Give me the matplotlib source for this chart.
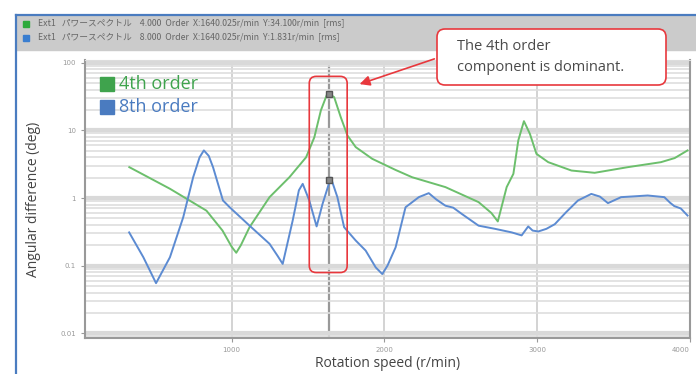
import matplotlib.pyplot as plt
import matplotlib.patches as mpatches
import matplotlib.transforms as mtransforms
from matplotlib.ticker import FixedLocator, NullFormatter, LogLocator

# 4th order curve (rotation speed r/min, angular difference deg)
speed_4th = [330, 596, 835, 940, 1000, 1030, 1060, 1117, 1248, 1378, 1487, 1541,
             1584, 1628, 1671, 1714, 1758, 1812, 1920, 2073, 2181, 2399, 2616,
             2700, 2742, 2800, 2844, 2876, 2913, 2952, 2995, 3072, 3224, 3376,
             3593, 3810, 3900, 3984]
deg_4th = [2.86, 1.37, 0.65, 0.33, 0.19, 0.155, 0.2, 0.37, 1.03, 2.03, 4.0, 7.9,
           19.8, 36.0, 31.0, 15.7, 8.4, 5.66, 3.8, 2.6, 2.03, 1.45, 0.87,
           0.6, 0.45, 1.45, 2.28, 7.1, 13.7, 8.9, 4.5, 3.39, 2.55, 2.36,
           2.86, 3.39, 3.9, 5.06]

# 8th order curve
speed_8th = [329, 422, 505, 596, 683, 748, 790, 818, 850, 878, 943, 987, 1117,
             1248, 1300, 1334, 1399, 1440, 1465, 1508, 1556, 1595, 1649, 1692,
             1736, 1812, 1877, 1943, 1986, 2020, 2073, 2138, 2225, 2290, 2340,
             2399, 2450, 2507, 2616, 2724, 2833, 2898, 2941, 2970, 3007, 3060,
             3115, 3190, 3267, 3354, 3410, 3463, 3549, 3640, 3723, 3832, 3870,
             3897, 3940, 3984]
deg_8th = [0.31, 0.133, 0.055, 0.133, 0.52, 2.03, 4.0, 5.06, 4.2, 2.86, 0.92,
           0.73, 0.39, 0.21, 0.14, 0.106, 0.46, 1.3, 1.62, 0.92, 0.38, 0.82,
           2.0, 1.03, 0.37, 0.235, 0.167, 0.094, 0.075, 0.1, 0.186, 0.73, 1.03,
           1.18, 0.95, 0.77, 0.72, 0.58, 0.39, 0.35, 0.31, 0.28, 0.38, 0.33,
           0.32, 0.35, 0.41, 0.62, 0.92, 1.15, 1.05, 0.84, 1.03, 1.06, 1.09,
           1.03, 0.85, 0.76, 0.7, 0.55]

cursor_speed = 1640
cursor_4th = 34.1
cursor_8th = 1.831

x_ticks = [1000, 2000, 3000, 4000]
y_ticks = [0.01, 0.1, 1, 10, 100]
y_tick_labels = ['0.01', '0.1', '1', '10', '100']

header_lines = [
    'Ext1   パワースペクトル    4.000  Order  X:1640.025r/min  Y:34.100r/min  [rms]',
    'Ext1   パワースペクトル    8.000  Order  X:1640.025r/min  Y:1.831r/min  [rms]',
]

green = '#6cbf6c'
blue = '#5c8bd2'
green_txt = '#3fa34d'
blue_txt = '#4a7bc0'

W, H = 696, 374
fig = plt.figure(figsize=(W / 100, H / 100), dpi=100)
fig.patch.set_facecolor('white')


def px_rect(x0, y0, x1, y1):
    # pixel box (top-left origin) -> figure fraction
    return [x0 / W, 1 - y1 / H, (x1 - x0) / W, (y1 - y0) / H]


# window frame and header band
fig.patches.append(mpatches.Rectangle((16 / W, 1 - 50 / H), 1 - 16 / W, 35 / H,
                                      transform=fig.transFigure, color='#cbcbcb', zorder=0))
fig.lines.append(plt.Line2D([16 / W, 1], [1 - 14.5 / H, 1 - 14.5 / H],
                            transform=fig.transFigure, color='#4a7cc0', lw=1.6))
fig.lines.append(plt.Line2D([16 / W, 16 / W], [0, 1 - 14.5 / H],
                            transform=fig.transFigure, color='#4a7cc0', lw=1.6))
for i, (line, c) in enumerate(zip(header_lines, ['#2eaa3c', '#3a7ed0'])):
    yy = 1 - (23.5 + 14 * i) / H
    fig.patches.append(mpatches.Rectangle((23 / W, yy - 3 / H), 6 / W, 6 / H,
                                          transform=fig.transFigure, color=c))
    fig.text(38 / W, yy, line, fontsize=6.3, color='#666666', va='center',
             family=['Noto Sans CJK JP', 'DejaVu Sans'])

ax = fig.add_axes(px_rect(85, 60, 690, 338))
ax.set_yscale('log')
ax.set_xlim(40, 4000)
ax.set_ylim(0.0085, 110)

ax.yaxis.set_major_locator(FixedLocator(y_ticks))
ax.set_yticklabels(y_tick_labels)
ax.yaxis.set_minor_locator(LogLocator(base=10, subs=range(2, 10)))
ax.yaxis.set_minor_formatter(NullFormatter())
ax.set_xticks(x_ticks)
ax.set_xticklabels([str(v) for v in x_ticks])
ax.get_xticklabels()[-1].set_horizontalalignment('right')

ax.grid(True, which='major', axis='y', color='#d9d9d9', lw=3)
ax.grid(True, which='minor', axis='y', color='#dedede', lw=1.2)
ax.grid(True, which='major', axis='x', color='#cccccc', lw=1.2)
ax.axvline(cursor_speed, color='#999999', lw=1.6, zorder=1)

ax.tick_params(axis='both', which='major', labelsize=5, colors='#999999', length=3)
ax.tick_params(axis='y', which='minor', length=0)
for side in ['left', 'bottom', 'right']:
    ax.spines[side].set_color('#999999')
    ax.spines[side].set_linewidth(1.5)
ax.spines['top'].set_color('#dddddd')

ax.plot(speed_4th, deg_4th, color=green, lw=1.4, zorder=3)
ax.plot(speed_8th, deg_8th, color=blue, lw=1.4, zorder=3)
ax.plot([cursor_speed, cursor_speed], [cursor_4th, cursor_8th], ls='none', marker='s',
        ms=4, color='#555555', mfc='#888888', zorder=4)

ax.set_ylabel('Angular difference (deg)', fontsize=10, color='#444444',
              family='Open Sans', labelpad=14)
ax.set_xlabel('Rotation speed (r/min)', fontsize=10, color='#444444',
              family='Open Sans', labelpad=2)

# in-plot legend
for i, (lab, c, tc) in enumerate([('4th order', '#3fa34d', green_txt),
                                  ('8th order', '#4a7bc0', blue_txt)]):
    yc = 84 + 23 * i
    fig.patches.append(mpatches.Rectangle((100 / W, 1 - (yc + 7) / H), 14 / W, 14 / H,
                                          transform=fig.transFigure, color=c))
    fig.text(119 / W, 1 - yc / H, lab, fontsize=13, color=tc, va='center',
             family='Open Sans')

fig.canvas.draw()
ident = mtransforms.IdentityTransform()

# red box around the cursor peaks
bx0, by0 = ax.transData.transform((1508, 0.079))
bx1, by1 = ax.transData.transform((1756, 63))
fig.patches.append(mpatches.FancyBboxPatch((bx0, by0), bx1 - bx0, by1 - by0,
                                           boxstyle='round,pad=0,rounding_size=7',
                                           transform=ident, fc='none', ec='#e8383d', lw=1.2,
                                           zorder=6))

# callout
fig.patches.append(mpatches.FancyBboxPatch((437, H - 85), 229, 56,
                                           boxstyle='round,pad=0,rounding_size=8',
                                           transform=ident, fc='white', ec='#e8383d', lw=1.2,
                                           zorder=6))
fig.text(457 / W, 1 - 57 / H, 'The 4th order\ncomponent is dominant.', fontsize=10.5,
         color='#4a4a4a', va='center', ha='left', family='Open Sans', linespacing=1.5,
         zorder=7)
fig.patches.append(mpatches.FancyArrowPatch((437, H - 58), (357, H - 85),
                                            transform=ident, arrowstyle='-|>,head_length=6,head_width=3',
                                            color='#e8383d', lw=1.2, zorder=7))

fig.savefig('out.png', dpi=100)
